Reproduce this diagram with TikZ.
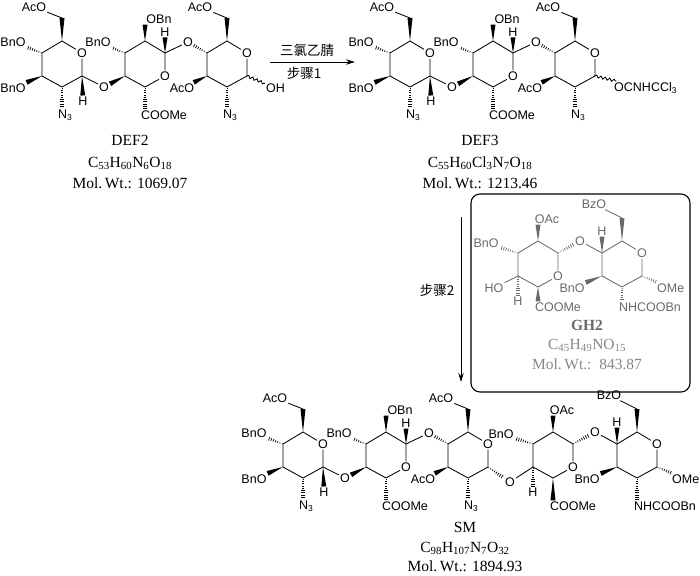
\documentclass[tikz,border=0pt]{standalone}
\usepackage{fontspec}
\setmainfont{Liberation Serif}
\newfontfamily\chemsf{Liberation Sans}
\newfontfamily\cjk{Noto Sans CJK SC}
\usepackage{xcolor}
\definecolor{GHline}{RGB}{105,105,105}
\definecolor{GHtext}{RGB}{135,135,135}
\usepackage{tikz}
\usetikzlibrary{arrows.meta}
\usetikzlibrary{decorations.markings}
\usetikzlibrary{decorations.pathmorphing}
\newcommand\ChemSub[1]{\raisebox{-0.35ex}{\fontsize{8.5}{9}\selectfont#1}}
\tikzstyle{Bond}=[line width=0.85pt]
\tikzstyle{Lbl}=[font=\chemsf\fontsize{12.5}{14}\selectfont,inner sep=1pt]
\tikzstyle{Wedge}=[draw=none,postaction={decorate,decoration={markings,
    mark=at position 0 with {\fill (0pt,0pt)--(\pgfdecoratedpathlength,-2.5pt)
    --(\pgfdecoratedpathlength,2.5pt)--cycle;}}}]
\tikzstyle{Hash}=[draw=none,postaction={decorate,decoration={markings,
    mark=between positions 1pt and 1 step 2.3pt with {\pgfmathsetmacro\hw{0.1*
    \pgfkeysvalueof{/pgf/decoration/mark info/distance from start}+0.3}
    \draw[line width=0.7pt] (0pt,-\hw pt)--(0pt,\hw pt);}}}]
\tikzstyle{Wavy}=[line width=0.85pt,decorate,
    decoration={snake,amplitude=1.3pt,segment length=4.5pt}]
\tikzstyle{Cap}=[font=\fontsize{15.5}{18}\selectfont,anchor=base,inner sep=0pt]
\tikzstyle{StepLbl}=[font=\cjk\fontsize{13.5}{15}\selectfont,inner sep=0pt]
\tikzstyle{Arrow}=[line width=0.9pt,-{Stealth[length=9pt,width=5.5pt]}]
\tikzstyle{GHbox}=[line width=1.1pt,rounded corners=9pt]
% pyranose ring, ring O at upper right
\newcommand\RingP[3]{%
  \begin{scope}[shift={(#2,#3)}]
  \coordinate (#1v1) at (-20,-11);
  \coordinate (#1v2) at (0,-23);
  \node[Lbl] (#1o) at (20,-11) {O};
  \coordinate (#1v4) at (20,12);
  \coordinate (#1v5) at (0,23);
  \coordinate (#1v6) at (-20,12);
  \end{scope}
  \draw[Bond,line join=round] (#1o)--(#1v4)--(#1v5)--(#1v6)--(#1v1)--(#1v2)--(#1o);}
% uronic ring, ring O at lower right
\newcommand\RingU[3]{%
  \begin{scope}[shift={(#2,#3)}]
  \coordinate (#1v1) at (-20,-11);
  \coordinate (#1v2) at (0,-23);
  \coordinate (#1v3) at (20,-11);
  \node[Lbl] (#1o) at (20,12) {O};
  \coordinate (#1v5) at (0,23);
  \coordinate (#1v6) at (-20,12);
  \end{scope}
  \draw[Bond,line join=round] (#1o)--(#1v5)--(#1v6)--(#1v1)--(#1v2)--(#1v3)--(#1o);}
% trisaccharide D-E-F
\newcommand\DEFunit[1]{%
  \RingP{#1a}{62}{64}
  \RingU{#1b}{145}{64}
  \RingP{#1c}{227}{64}
  \coordinate (#1ach) at (62,18);
  \node[Lbl] (#1aaco) at (34,7) {AcO};
  \draw[Wedge] (#1av2)--(#1ach);
  \draw[Bond] (#1ach)--(#1aaco);
  \node[Lbl] (#1abnt) at (13,42) {BnO};
  \draw[Hash] (#1av1)--(#1abnt);
  \node[Lbl] (#1abnb) at (13,88) {BnO};
  \draw[Wedge] (#1av6)--(#1abnb);
  \node[Lbl] (#1an) at (65,115) {N\ChemSub{3}};
  \draw[Hash] (#1av5)--(#1av5 |- #1an.north);
  \node[Lbl] (#1ah) at (83,101) {H};
  \draw[Wedge] (#1av4)--(#1ah);
  \node[Lbl] (#1oab) at (104,87) {O};
  \draw[Bond] (#1av4)--(#1oab);
  \draw[Wedge] (#1bv6)--(#1oab);
  \node[Lbl] (#1bbn) at (98,42) {BnO};
  \draw[Hash] (#1bv1)--(#1bbn);
  \node[Lbl] (#1bobn) at (159,19) {OBn};
  \draw[Wedge] (#1bv2)--(#1bv2 |- #1bobn.south);
  \node[Lbl] (#1bh) at (165,32) {H};
  \draw[Wedge] (#1bv3)--(#1bh);
  \node[Lbl] (#1obc) at (188,42) {O};
  \draw[Bond] (#1bv3)--(#1obc);
  \draw[Hash] (#1cv1)--(#1obc);
  \node[Lbl] (#1bcoo) at (164,115) {COOMe};
  \draw[Hash] (#1bv5)--(#1bv5 |- #1bcoo.north);
  \coordinate (#1cch) at (227,18);
  \node[Lbl] (#1caco) at (200,7) {AcO};
  \draw[Wedge] (#1cv2)--(#1cch);
  \draw[Bond] (#1cch)--(#1caco);
  \node[Lbl] (#1cacb) at (182,88) {AcO};
  \draw[Wedge] (#1cv6)--(#1cacb);
  \node[Lbl] (#1cn) at (230,115) {N\ChemSub{3}};
  \draw[Hash] (#1cv5)--(#1cv5 |- #1cn.north);}
% disaccharide G-H
\newcommand\GHunit[2]{%
  \RingU{#1g}{538}{264}
  \RingP{#1h}{622}{264}
  \node[Lbl] (#1gbn) at (486,243) {BnO};
  \draw[Hash] (#1gv1)--(#1gbn);
  \node[Lbl] (#1goac) at (547,219) {OAc};
  \draw[Wedge] (#1gv2)--(#1gv2 |- #1goac.south);
  \node[Lbl] (#1ogh) at (580,241) {O};
  \draw[Hash] (#1gv3)--(#1ogh);
  \draw[Bond] (#1ogh)--(#1hv1);
  \node[Lbl] (#1gcoo) at (558,#2) {COOMe};
  \draw[Wedge] (#1gv5)--(#1gv5 |- #1gcoo.north);
  \node[Lbl] (#1gh) at (518,301) {H};
  \draw[Hash] (#1gv6)--(#1gh);
  \node[Lbl] (#1hh) at (602,231) {H};
  \draw[Wedge] (#1hv1)--(#1hh);
  \coordinate (#1hch) at (622,218);
  \node[Lbl] (#1hbz) at (594,204) {BzO};
  \draw[Wedge] (#1hv2)--(#1hch);
  \draw[Bond] (#1hch)--(#1hbz);
  \node[Lbl,anchor=west] (#1home) at (656,288) {OMe};
  \draw[Hash] (#1hv4)--(#1home);
  \node[Lbl] (#1hnh) at (650,#2) {NHCOOBn};
  \draw[Hash] (#1hv5)--(#1hv5 |- #1hnh.north);
  \node[Lbl] (#1hbn) at (572,288) {BnO};
  \draw[Wedge] (#1hv6)--(#1hbn);}

\begin{document}
\begin{tikzpicture}[x=1pt,y=-1pt]
  \useasboundingbox (0,0) rectangle (700,575);
  % DEF2
  \DEFunit{d}
  \node[Lbl,anchor=west] (doh) at (265,88) {OH};
  \draw[Wavy] (dcv4)--(doh);
  \node[Cap] (dname) at (130,145) {DEF2};
  \node[Cap] (dform) at (130,167)
      {C\textsubscript{53}H\textsubscript{60}N\textsubscript{6}O\textsubscript{18}};
  \node[Cap] (dmw) at (130,188) {Mol.\,Wt.: 1069.07};
  % step 1
  \coordinate (r1s) at (270,62);
  \coordinate (r1e) at (355,62);
  \draw[Arrow] (r1s)--(r1e);
  \node[StepLbl] (r1t) at (307,50) {三氯乙腈};
  \node[StepLbl] (r1b) at (304,73) {步骤1};
  % DEF3
  \begin{scope}[shift={(348,0)}]
    \DEFunit{e}
    \node[Lbl,anchor=west] (eoc) at (265,88) {OCNHCCl\ChemSub{3}};
    \draw[Wavy] (ecv4)--(eoc);
  \end{scope}
  \node[Cap] (ename) at (480,145) {DEF3};
  \node[Cap] (eform) at (480,167) {C\textsubscript{55}H\textsubscript{60}%
      Cl\textsubscript{3}N\textsubscript{7}O\textsubscript{18}};
  \node[Cap] (emw) at (480,188) {Mol.\,Wt.: 1213.46};
  % step 2
  \coordinate (r2s) at (461,217);
  \coordinate (r2e) at (461,382);
  \draw[Arrow] (r2s)--(r2e);
  \node[StepLbl] (r2l) at (437,290) {步骤2};
  % GH2
  \draw[GHbox] (471,194) rectangle (690,392);
  \begin{scope}[color=GHline]
    \GHunit{g}{307}
    \node[Lbl] (gho) at (494,288) {HO};
    \draw[Bond] (ggv6)--(gho);
    \node[Cap] (gname) at (587,330) {\textbf{GH2}};
  \end{scope}
  \begin{scope}[color=GHtext]
    \node[Cap] (gform) at (587,349)
        {C\textsubscript{45}H\textsubscript{49}NO\textsubscript{15}};
    \node[Cap] (gmw) at (587,369) {Mol.\,Wt.:\ \ 843.87};
  \end{scope}
  % SM
  \begin{scope}[shift={(241,391)}]
    \DEFunit{m}
  \end{scope}
  \begin{scope}[shift={(15,191)}]
    \GHunit{s}{315}
  \end{scope}
  \node[Lbl] (mocd) at (510,482) {O};
  \draw[Hash] (mcv4)--(mocd);
  \draw[Bond] (mocd)--(sgv6);
  \node[Cap] (sname) at (465,532) {SM};
  \node[Cap] (sform) at (465,552)
      {C\textsubscript{98}H\textsubscript{107}N\textsubscript{7}O\textsubscript{32}};
  \node[Cap] (smw) at (465,571) {Mol.\,Wt.: 1894.93};
\end{tikzpicture}
\end{document}
